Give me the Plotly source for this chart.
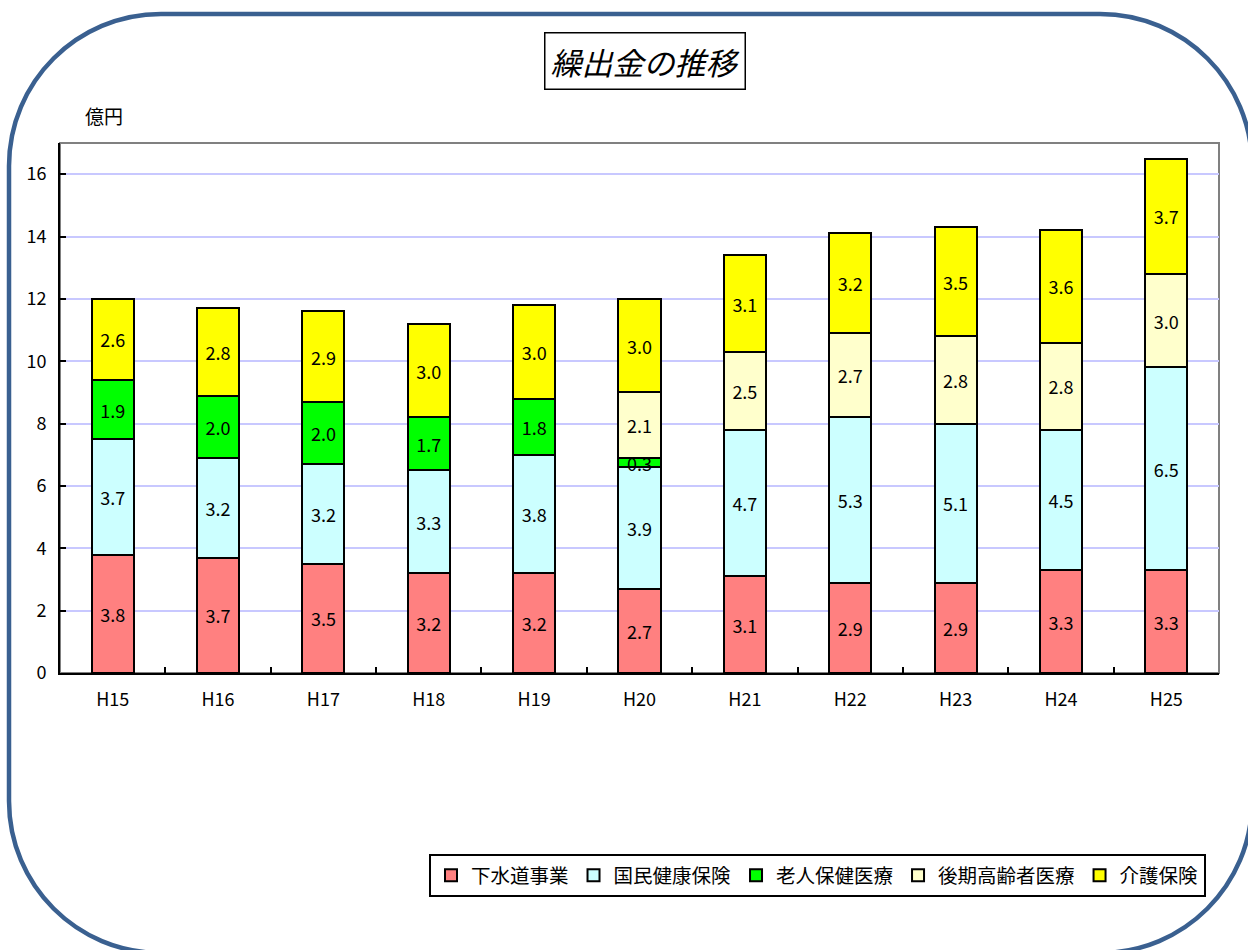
import plotly.graph_objects as go

categories = ["H15", "H16", "H17", "H18", "H19", "H20", "H21", "H22", "H23", "H24", "H25"]
sewer = [3.8, 3.7, 3.5, 3.2, 3.2, 2.7, 3.1, 2.9, 2.9, 3.3, 3.3]
nhi = [3.7, 3.2, 3.2, 3.3, 3.8, 3.9, 4.7, 5.3, 5.1, 4.5, 6.5]
elderly = [1.9, 2.0, 2.0, 1.7, 1.8, 0.3, None, None, None, None, None]
late_elderly = [None, None, None, None, None, 2.1, 2.5, 2.7, 2.8, 2.8, 3.0]
care = [2.6, 2.8, 2.9, 3.0, 3.0, 3.0, 3.1, 3.2, 3.5, 3.6, 3.7]

series = [
    ("下水道事業", sewer, "#FF8080"),
    ("国民健康保険", nhi, "#CCFFFF"),
    ("老人保健医療", elderly, "#00FF00"),
    ("後期高齢者医療", late_elderly, "#FFFFCC"),
    ("介護保険", care, "#FFFF00"),
]

W, H = 1248, 950
ML, MR, MT, MB = 60, 29, 143, 277
PW, PH = W - ML - MR, H - MT - MB


def px(x):
    return (x - ML) / PW


def py(y):
    return (H - MB - y) / PH


FONT = "Noto Sans CJK JP, Noto Sans, sans-serif"
LABEL_SIZE = 18
SMALL = 0.5  # segments thinner than this get their label drawn on top

fig = go.Figure()
base = [0.0] * len(categories)
small_labels = []
for name, vals, color in series:
    texts = []
    for i, v in enumerate(vals):
        if v is None:
            texts.append("")
            continue
        if v < SMALL:
            texts.append("")
            small_labels.append((categories[i], base[i] + v / 2, v))
        else:
            texts.append(f"{v:.1f}")
        base[i] += v
    fig.add_trace(go.Bar(
        x=categories, y=vals, name=name,
        marker=dict(color=color, line=dict(color="black", width=2)),
        width=0.4,
        text=texts, texttemplate="%{text}", textposition="inside",
        insidetextanchor="middle",
        textfont=dict(size=LABEL_SIZE, color="black", family=FONT),
        hoverinfo="skip",
    ))

# rounded border
L, R, T, B, r = 9, 1252, 14, 953, 152
k = 0.5523 * r


def P(x, y):
    return f"{px(x):.5f},{py(y):.5f}"


path = (
    f"M {P(L + r, T)} L {P(R - r, T)} "
    f"C {P(R - r + k, T)} {P(R, T + r - k)} {P(R, T + r)} "
    f"L {P(R, B - r)} "
    f"C {P(R, B - r + k)} {P(R - r + k, B)} {P(R - r, B)} "
    f"L {P(L + r, B)} "
    f"C {P(L + r - k, B)} {P(L, B - r + k)} {P(L, B - r)} "
    f"L {P(L, T + r)} "
    f"C {P(L, T + r - k)} {P(L + r - k, T)} {P(L + r, T)} Z"
)

shapes = [
    dict(type="path", xref="paper", yref="paper", path=path,
         line=dict(color="#3A6090", width=4.5), layer="below"),
    dict(type="rect", xref="paper", yref="paper", x0=0, x1=1, y0=0, y1=1,
         line=dict(color="#808080", width=2), layer="below"),
]

annotations = [
    dict(text="繰出金の推移", xref="paper", yref="paper", x=px(645), y=py(61),
         xanchor="center", yanchor="middle",
         showarrow=False, font=dict(size=31, family=FONT, color="black", style="italic"),
         bordercolor="black", borderwidth=1.5, borderpad=5, bgcolor="white"),
    dict(text="億円", xref="paper", yref="paper", x=px(104), y=py(115),
         xanchor="center", yanchor="middle",
         showarrow=False, font=dict(size=19, family=FONT, color="black")),
]
for cat, ymid, v in small_labels:
    annotations.append(dict(text=f"{v:.1f}", x=cat, y=ymid, xref="x", yref="y",
                            showarrow=False,
                            font=dict(size=LABEL_SIZE, family=FONT, color="black")))

fig.update_layout(
    width=W, height=H,
    margin=dict(l=ML, r=MR, t=MT, b=MB),
    barmode="stack",
    plot_bgcolor="white", paper_bgcolor="white",
    font=dict(family=FONT, size=18, color="black"),
    shapes=shapes, annotations=annotations,
    showlegend=True,
    legend=dict(orientation="h", x=px(1206), xanchor="right", y=py(854), yanchor="top",
                bordercolor="black", borderwidth=2, bgcolor="white",
                font=dict(size=19.5, family=FONT), traceorder="normal",
                itemwidth=30),
    hovermode=False,
)
fig.update_xaxes(
    showline=True, linecolor="black", linewidth=2,
    ticks="inside", ticklen=6, tickcolor="black", tickwidth=2,
    tickson="boundaries", showgrid=False, ticklabelstandoff=9,
    tickfont=dict(size=18), fixedrange=True,
)
fig.update_yaxes(
    range=[0, 17], dtick=2, tick0=0,
    showline=True, linecolor="black", linewidth=2,
    ticks="inside", ticklen=6, tickcolor="black", tickwidth=2,
    showgrid=True, gridcolor="#C8C8FF", gridwidth=2, ticklabelstandoff=8,
    zeroline=False, tickfont=dict(size=18), fixedrange=True,
)

fig.write_html("out.html", config={"displayModeBar": False},
               post_script="document.body.style.margin='0';document.body.style.overflow='hidden';")
